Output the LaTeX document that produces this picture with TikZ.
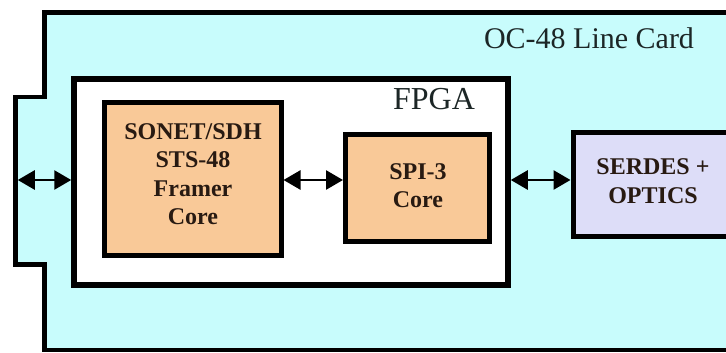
\documentclass[tikz,border=0pt]{standalone}
\usepackage{fontspec}
\setmainfont{Liberation Serif}
\usetikzlibrary{arrows.meta}
\definecolor{cardcyan}{RGB}{200,252,252}
\definecolor{coreorange}{RGB}{249,201,152}
\definecolor{serdeslav}{RGB}{221,221,248}
\definecolor{boxink}{RGB}{40,26,18}
\definecolor{labelink}{RGB}{28,38,38}
\tikzset{
  corebox/.style={draw=black, line width=5pt, fill=coreorange, inner sep=0pt},
  fpgabox/.style={draw=black, line width=5.5pt, fill=white, inner sep=0pt},
  serdesbox/.style={draw=black, line width=5pt, fill=serdeslav, inner sep=0pt},
  boxtext/.style={text=boxink, align=center, inner sep=0pt,
    font=\fontsize{24}{28.5}\selectfont\bfseries},
  titletext/.style={text=labelink, inner sep=0pt},
  biarrow/.style={line width=2.6pt, {Triangle[length=17pt,width=19pt]}-{Triangle[length=17pt,width=19pt]}}
}
\begin{document}
\begin{tikzpicture}[x=1pt,y=-1pt]
\path[use as bounding box] (0,0) rectangle (726,353);
\clip (0,0) rectangle (726,353);
\fill[white] (0,0) rectangle (726,353);
% line card outline with notch
\draw[line width=4.5pt, fill=cardcyan, line join=miter]
  (745,12.5) -- (44.5,12.5) -- (44.5,97) -- (15.5,97) -- (15.5,264.5)
  -- (44.5,264.5) -- (44.5,350) -- (745,350) -- cycle;
\coordinate (notch) at (17.75,180);
\coordinate (ay) at (0,180);
\node[titletext, font=\fontsize{30}{34}\selectfont] (cardlabel) at (589,38.5) {OC-48 Line Card};
% FPGA
\node[fpgabox, minimum width=434pt, minimum height=206pt] (fpga) at (291,182) {};
\node[titletext, font=\fontsize{32}{36}\selectfont] (fpgalabel) at (434,99) {FPGA};
% cores
\node[corebox, minimum width=176.5pt, minimum height=152.5pt] (framer) at (192.75,178.75) {};
\node[boxtext] (framertext) at (193,174) {SONET/SDH\\STS-48\\Framer\\Core};
\node[corebox, minimum width=143.5pt, minimum height=106.5pt] (spi) at (417.25,187.75) {};
\node[boxtext] (spitext) at (418,185.5) {SPI-3\\Core};
% serdes
\node[serdesbox, minimum width=160pt, minimum height=103.5pt] (serdes) at (653,184.25) {};
\node[boxtext] (serdestext) at (653,181) {SERDES +\\OPTICS};
% connectors
\draw[biarrow] (notch) -- (fpga.west |- ay);
\draw[biarrow] (framer.east |- ay) -- (spi.west |- ay);
\draw[biarrow] (fpga.east |- ay) -- (serdes.west |- ay);
\end{tikzpicture}
\end{document}
